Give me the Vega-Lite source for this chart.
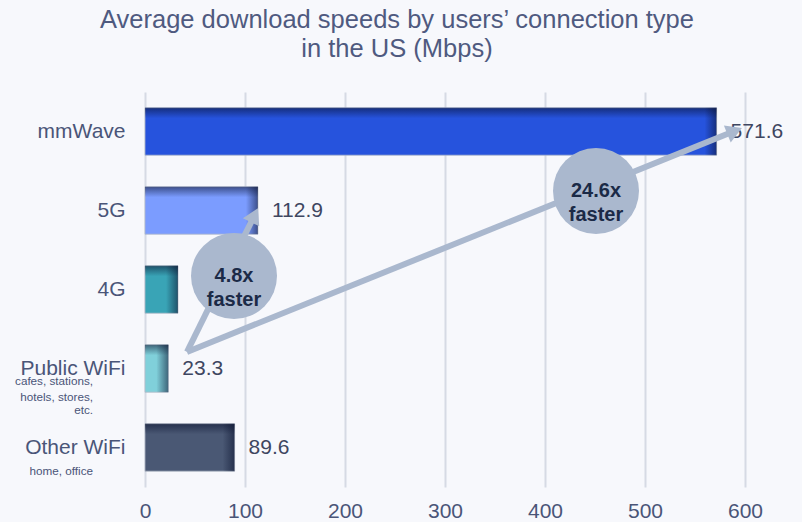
{
  "$schema": "https://vega.github.io/schema/vega-lite/v6.json",
  "width": 600,
  "height": 395,
  "autosize": {"type": "none"},
  "padding": {"left": 145, "top": 92, "right": 57, "bottom": 35},
  "background": "#f7f8fc",
  "config": {
    "font": "Liberation Sans",
    "view": {"stroke": null}
  },
  "title": {
    "text": ["Average download speeds by users’ connection type", "in the US (Mbps)"],
    "fontSize": 25.5,
    "fontWeight": "normal",
    "color": "#4f5a80",
    "anchor": "middle",
    "frame": "group",
    "dx": -48,
    "offset": 30,
    "lineHeight": 29
  },
  "datasets": {
    "speeds": [
      {"type": "mmWave", "mbps": 571.6},
      {"type": "5G", "mbps": 112.9},
      {"type": "4G", "mbps": 33.0},
      {"type": "Public WiFi", "mbps": 23.3},
      {"type": "Other WiFi", "mbps": 89.6}
    ],
    "notes": [
      {"note": "cafes, stations,", "mbps": -52, "row": 3.66},
      {"note": "hotels, stores,", "mbps": -52, "row": 3.86},
      {"note": "etc.", "mbps": -52, "row": 4.02},
      {"note": "home, office", "mbps": -52, "row": 4.8}
    ],
    "arrows": [
      {"arrow": "a", "seq": 0, "mbps": 42, "row": 3.29},
      {"arrow": "a", "seq": 1, "mbps": 109.5, "row": 1.56},
      {"arrow": "b", "seq": 0, "mbps": 42, "row": 3.29},
      {"arrow": "b", "seq": 1, "mbps": 589.6, "row": 0.494}
    ],
    "bubbles": [
      {"label": "4.8x\nfaster", "mbps": 89, "row": 2.33},
      {"label": "24.6x\nfaster", "mbps": 451, "row": 1.253}
    ]
  },
  "encoding": {
    "x": {
      "field": "mbps",
      "type": "quantitative",
      "scale": {"domain": [0, 600], "nice": false},
      "axis": {
        "title": null,
        "values": [0, 100, 200, 300, 400, 500, 600],
        "domain": false,
        "ticks": false,
        "grid": true,
        "gridColor": "#d6dae4",
        "gridWidth": 2,
        "labelFlush": false,
        "labelOverlap": false,
        "labelFontSize": 21,
        "labelPadding": 13,
        "labelColor": "#4a5578"
      }
    }
  },
  "layer": [
    {
      "data": {"name": "speeds"},
      "encoding": {
        "y": {
          "field": "type",
          "type": "nominal",
          "sort": ["mmWave", "5G", "4G", "Public WiFi", "Other WiFi"],
          "scale": {"paddingInner": 0.4, "paddingOuter": 0.2},
          "axis": {
            "title": null,
            "domain": false,
            "ticks": false,
            "grid": false,
            "labelFontSize": 21,
            "labelPadding": 20,
            "labelColor": "#4a5578"
          }
        }
      },
      "layer": [
        {
          "mark": {"type": "bar", "stroke": "#b4bac8", "strokeWidth": 0.8},
          "encoding": {
            "color": {
              "field": "type",
              "type": "nominal",
              "scale": {
                "domain": ["mmWave", "5G", "4G", "Public WiFi", "Other WiFi"],
                "range": ["#2653dd", "#7b9cff", "#39a4b6", "#80d0da", "#4a5874"]
              },
              "legend": null
            }
          }
        },
        {
          "mark": {
            "type": "bar",
            "fill": {
              "gradient": "linear",
              "x1": 0, "y1": 0, "x2": 0, "y2": 1,
              "stops": [
                {"offset": 0, "color": "rgba(8,16,45,0.55)"},
                {"offset": 0.22, "color": "rgba(8,16,45,0)"},
                {"offset": 1, "color": "rgba(8,16,45,0)"}
              ]
            }
          }
        },
        {
          "mark": {
            "type": "bar",
            "xOffset": -12,
            "fill": {
              "gradient": "linear",
              "x1": 0, "y1": 0, "x2": 1, "y2": 0,
              "stops": [
                {"offset": 0, "color": "rgba(8,16,45,0)"},
                {"offset": 1, "color": "rgba(8,16,45,0.55)"}
              ]
            }
          },
          "encoding": {"x2": {"field": "mbps"}}
        },
        {
          "transform": [{"filter": "datum.type !== '4G'"}],
          "mark": {"type": "text", "align": "left", "baseline": "middle", "dx": 14, "fontSize": 21, "color": "#3e4660"},
          "encoding": {"text": {"field": "mbps", "type": "quantitative", "format": ".1f"}}
        }
      ]
    },
    {
      "encoding": {
        "y": {"field": "row", "type": "quantitative", "scale": {"domain": [0, 5], "reverse": true, "nice": false, "zero": false}, "axis": null}
      },
      "layer": [
        {
          "data": {"name": "notes"},
          "mark": {"type": "text", "align": "right", "baseline": "middle", "fontSize": 11.7, "color": "#4a5578"},
          "encoding": {"text": {"field": "note"}}
        },
        {
          "data": {"name": "arrows"},
          "mark": {"type": "line", "stroke": "#aab8ce", "strokeWidth": 6, "strokeCap": "butt"},
          "encoding": {"detail": {"field": "arrow"}, "order": {"field": "seq"}}
        },
        {
          "data": {"name": "arrows"},
          "transform": [{"filter": "datum.seq === 1 && datum.arrow === 'a'"}],
          "mark": {"type": "point", "shape": "triangle-up", "filled": true, "color": "#aab8ce", "opacity": 1, "size": 330, "angle": 26}
        },
        {
          "data": {"name": "arrows"},
          "transform": [{"filter": "datum.seq === 1 && datum.arrow === 'b'"}],
          "mark": {"type": "point", "shape": "triangle-up", "filled": true, "color": "#aab8ce", "opacity": 1, "size": 330, "angle": 68}
        },
        {
          "data": {"name": "bubbles"},
          "mark": {"type": "point", "shape": "circle", "filled": true, "color": "#aab8ce", "opacity": 1, "size": 7396}
        },
        {
          "data": {"name": "bubbles"},
          "mark": {"type": "text", "align": "center", "baseline": "middle", "lineBreak": "\n", "lineHeight": 24, "fontSize": 20, "fontWeight": "bold", "color": "#1b2a47"},
          "encoding": {"text": {"field": "label"}}
        }
      ]
    }
  ],
  "resolve": {"scale": {"y": "independent"}, "axis": {"y": "independent"}}
}
